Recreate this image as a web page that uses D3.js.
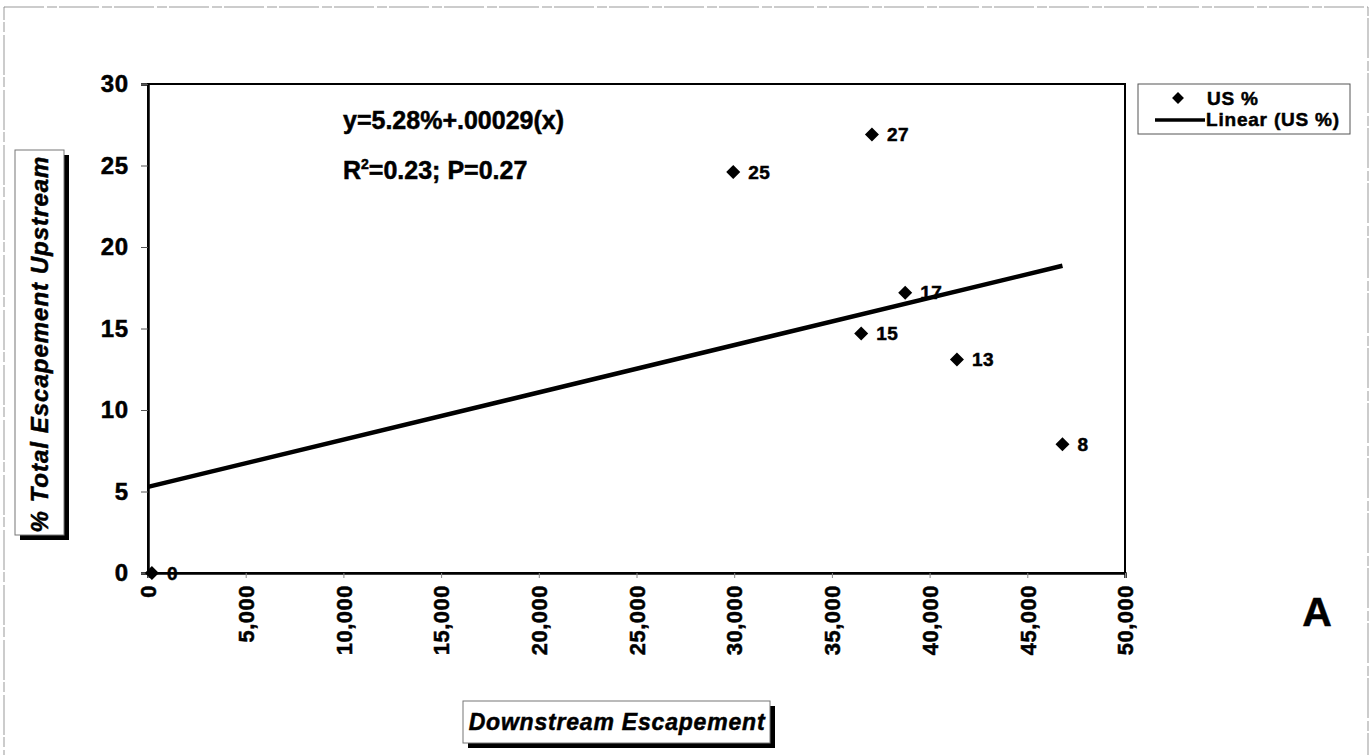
<!DOCTYPE html>
<html>
<head>
<meta charset="utf-8">
<script src="https://cdn.jsdelivr.net/npm/d3@7/dist/d3.min.js"></script>
<style>
  html, body { margin: 0; padding: 0; background: #fff; }
  svg { display: block; font-family: "Liberation Sans", Arial, sans-serif; }
  svg text { font-weight: bold; fill: #000; stroke: #000; stroke-width: 0.5px; }
</style>
</head>
<body>
<svg id="chart" width="1371" height="755"></svg>
<script>
// Downstream escapement vs. % of total escapement found upstream
const downstream = [200, 29950, 37050, 38750, 36500, 41400, 46800];
const upstreamPct = [0, 24.6, 26.9, 17.2, 14.7, 13.1, 7.9];

// Linear fit reported for the series
const fitIntercept = 5.28;
const fitSlope = 0.00029;

const xTicks = [0, 5000, 10000, 15000, 20000, 25000, 30000, 35000, 40000, 45000, 50000];
const yTicks = [0, 5, 10, 15, 20, 25, 30];

const svg = d3.select("#chart");
const m = { left: 148, top: 84, right: 1125, bottom: 573 };

const x = d3.scaleLinear().domain([0, 50000]).range([m.left, m.right]);
const y = d3.scaleLinear().domain([0, 30]).range([m.bottom, m.top]);

// outer frame
svg.append("rect")
  .attr("x", 4).attr("y", 7).attr("width", 1364).attr("height", 760)
  .attr("fill", "none").attr("stroke", "#999").attr("stroke-width", 1)
  .attr("stroke-dasharray", "40,3,10,2");

// plot area border
svg.append("rect")
  .attr("x", m.left).attr("y", m.top)
  .attr("width", m.right - m.left).attr("height", m.bottom - m.top)
  .attr("fill", "none").attr("stroke", "#000").attr("stroke-width", 2);

// y axis
const yAxis = svg.append("g")
  .attr("transform", `translate(${m.left},0)`)
  .call(d3.axisLeft(y).tickValues(yTicks).tickSize(7).tickPadding(12).tickFormat(d3.format("d")));
yAxis.select(".domain").attr("stroke", "#000").attr("stroke-width", 2.5);
yAxis.selectAll(".tick line").attr("stroke", "#555").attr("stroke-width", 1);
yAxis.selectAll(".tick text")
  .style("font-size", "24px").style("letter-spacing", "0.8px");

// x axis, labels turned vertical
const xAxis = svg.append("g")
  .attr("transform", `translate(0,${m.bottom})`)
  .call(d3.axisBottom(x).tickValues(xTicks).tickSize(5).tickFormat(d3.format(",")));
xAxis.select(".domain").attr("stroke", "#000").attr("stroke-width", 2.5);
xAxis.selectAll(".tick line").attr("stroke", "#888").attr("stroke-width", 1);
xAxis.selectAll(".tick text")
  .style("font-size", "22px").style("letter-spacing", "0.5px")
  .attr("transform", "rotate(-90)")
  .attr("x", -12).attr("y", 0).attr("dy", "0.35em")
  .attr("text-anchor", "end");

// trend line across the observed range
const xMax = d3.max(downstream);
svg.append("line")
  .attr("x1", x(0)).attr("y1", y(fitIntercept + fitSlope * 0))
  .attr("x2", x(xMax)).attr("y2", y(fitIntercept + fitSlope * xMax))
  .attr("stroke", "#000").attr("stroke-width", 4.5);

// data points
const pts = downstream.map((d, i) => ({ x: d, y: upstreamPct[i] }));
const diamond = d3.symbol().type(d3.symbolDiamond2).size(125);
svg.append("g").selectAll("path").data(pts).join("path")
  .attr("d", diamond)
  .attr("transform", d => `translate(${x(d.x)},${y(d.y)})`)
  .attr("fill", "#000");

svg.append("g").selectAll("text").data(pts).join("text")
  .attr("x", d => x(d.x) + 15).attr("y", d => y(d.y))
  .attr("dy", "0.35em")
  .style("font-size", "19px").style("letter-spacing", "0.5px")
  .text(d => d3.format(".0f")(d.y));

// regression annotation
svg.append("text")
  .attr("x", 343).attr("y", 129)
  .style("font-size", "25px")
  .text("y=5.28%+.00029(x)");
const r2 = svg.append("text")
  .attr("x", 343).attr("y", 179)
  .style("font-size", "25px");
r2.append("tspan").text("R");
r2.append("tspan").attr("dy", -10).style("font-size", "14px").text("2");
r2.append("tspan").attr("dy", 10).text("=0.23; P=0.27");

// legend
const lg = svg.append("g");
lg.append("rect")
  .attr("x", 1138).attr("y", 84).attr("width", 212).attr("height", 50)
  .attr("fill", "#fff").attr("stroke", "#555").attr("stroke-width", 1);
lg.append("path")
  .attr("d", d3.symbol().type(d3.symbolDiamond2).size(90))
  .attr("transform", "translate(1178,98)").attr("fill", "#000");
lg.append("text").attr("x", 1207).attr("y", 98).attr("dy", "0.35em")
  .style("font-size", "19px").style("letter-spacing", "0.8px").text("US %");
lg.append("line")
  .attr("x1", 1155).attr("x2", 1205).attr("y1", 120).attr("y2", 120)
  .attr("stroke", "#000").attr("stroke-width", 3.5);
lg.append("text").attr("x", 1206).attr("y", 119).attr("dy", "0.35em")
  .style("font-size", "19px").style("letter-spacing", "0.8px").text("Linear (US %)");

// axis title boxes with drop shadow
function titleBox(bx, by, bw, bh) {
  svg.append("rect").attr("x", bx + 5).attr("y", by + 5).attr("width", bw).attr("height", bh).attr("fill", "#000");
  svg.append("rect").attr("x", bx).attr("y", by).attr("width", bw).attr("height", bh)
    .attr("fill", "#fff").attr("stroke", "#777").attr("stroke-width", 1);
}

titleBox(15, 150, 49, 385);
svg.append("text")
  .attr("transform", "translate(40,344) rotate(-90)")
  .attr("text-anchor", "middle").attr("dy", "0.35em")
  .style("font-size", "24px").style("letter-spacing", "1px").style("font-style", "italic")
  .text("% Total Escapement Upstream");

titleBox(463, 701, 307, 42);
svg.append("text")
  .attr("x", 617).attr("y", 722).attr("text-anchor", "middle").attr("dy", "0.35em")
  .style("font-size", "23px").style("letter-spacing", "0.8px").style("font-style", "italic")
  .text("Downstream Escapement");

// panel letter
svg.append("text")
  .attr("x", 1317).attr("y", 612).attr("text-anchor", "middle").attr("dy", "0.35em")
  .style("font-size", "41px")
  .text("A");
</script>
</body>
</html>
